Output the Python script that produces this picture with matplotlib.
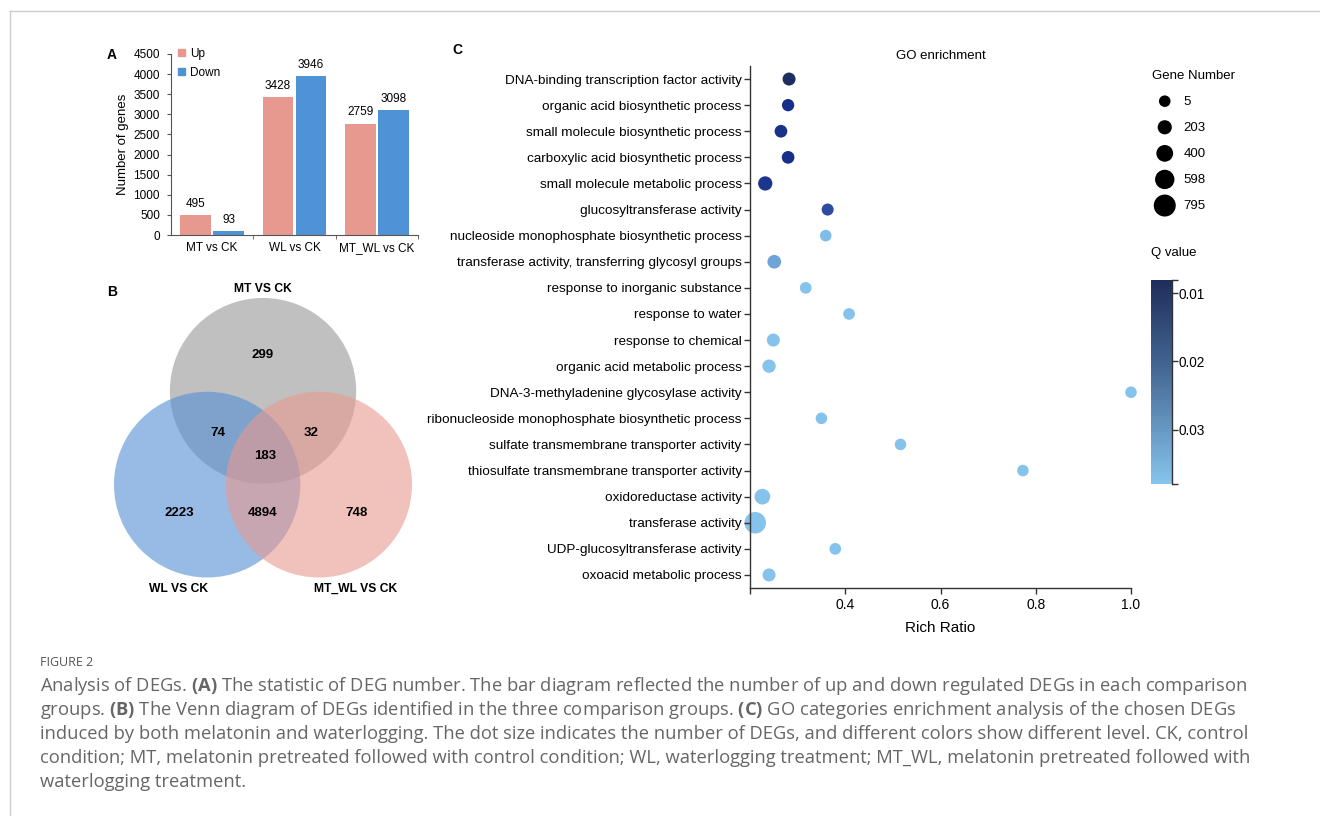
import matplotlib
matplotlib.use('Agg')
import matplotlib.pyplot as plt
import matplotlib.colors as mcolors
from matplotlib.patches import Circle, Patch
from matplotlib.lines import Line2D
import numpy as np

plt.rcParams['font.family'] = ['Liberation Sans', 'DejaVu Sans']
plt.rcParams['mathtext.fontset'] = 'custom'
plt.rcParams['mathtext.rm'] = 'Open Sans'
plt.rcParams['mathtext.bf'] = 'Open Sans:bold'

# --- panel A: DEG numbers
comparisons = ["MT vs CK", "WL vs CK", "MT_WL vs CK"]
up_counts = [495, 3428, 2759]
down_counts = [93, 3946, 3098]

# --- panel B: venn counts (region code: MT, WL, MT_WL membership)
venn_names = ["MT VS CK", "WL VS CK", "MT_WL VS CK"]
venn_regions = ["100", "010", "001", "110", "101", "011", "111"]
venn_counts = [299, 2223, 748, 74, 32, 4894, 183]

# --- panel C: GO enrichment
go_terms = [
    "DNA-binding transcription factor activity",
    "organic acid biosynthetic process",
    "small molecule biosynthetic process",
    "carboxylic acid biosynthetic process",
    "small molecule metabolic process",
    "glucosyltransferase activity",
    "nucleoside monophosphate biosynthetic process",
    "transferase activity, transferring glycosyl groups",
    "response to inorganic substance",
    "response to water",
    "response to chemical",
    "organic acid metabolic process",
    "DNA-3-methyladenine glycosylase activity",
    "ribonucleoside monophosphate biosynthetic process",
    "sulfate transmembrane transporter activity",
    "thiosulfate transmembrane transporter activity",
    "oxidoreductase activity",
    "transferase activity",
    "UDP-glucosyltransferase activity",
    "oxoacid metabolic process",
]
rich_ratio = [0.282, 0.280, 0.265, 0.280, 0.232, 0.363, 0.359, 0.251, 0.317, 0.408,
              0.249, 0.240, 1.000, 0.350, 0.516, 0.773, 0.226, 0.211, 0.379, 0.240]
gene_number = [115, 60, 90, 90, 210, 40, 5, 165, 15, 15,
               115, 140, 5, 5, 5, 5, 320, 760, 15, 115]
q_value = [0.0085, 0.0105, 0.0110, 0.0105, 0.0115, 0.0150, 0.0360, 0.0300, 0.0375, 0.0375,
           0.0375, 0.0375, 0.0375, 0.0375, 0.0375, 0.0375, 0.0375, 0.0375, 0.0375, 0.0375]
legend_genes = [5, 203, 400, 598, 795]
q_ticks = [0.01, 0.02, 0.03]
q_min, q_max = 0.0081, 0.0379

W, H = 1320, 816
fig = plt.figure(figsize=(W / 100, H / 100), dpi=100)


def box(x0, y0, x1, y1):
    # pixel box -> figure fraction rect
    return [x0 / W, 1 - y1 / H, (x1 - x0) / W, (y1 - y0) / H]


# page border
fig.add_artist(Line2D([10 / W, 10 / W], [0, 1 - 11 / H], color='#cccccc', lw=1))
fig.add_artist(Line2D([10 / W, 1], [1 - 11 / H, 1 - 11 / H], color='#cccccc', lw=1))

# ---------------- panel A
axA = fig.add_axes(box(171, 54, 418, 235))
x = np.arange(len(comparisons))
up_col, down_col = '#E8998F', '#4F93D6'
b1 = axA.bar(x - 0.2, up_counts, width=0.37, color=up_col, label='Up')
b2 = axA.bar(x + 0.2, down_counts, width=0.37, color=down_col, label='Down')
axA.bar_label(b1, padding=4, fontsize=8.5)
axA.bar_label(b2, padding=4, fontsize=8.5)
axA.set_xlim(-0.5, 2.5)
axA.set_ylim(0, 4500)
axA.set_yticks(np.arange(0, 4501, 500))
axA.set_xticks(x)
axA.set_xticklabels(comparisons)
axA.set_xticks([0.5, 1.5, 2.5], minor=True)
axA.tick_params(axis='x', which='major', length=0, labelsize=8.5, pad=5)
axA.tick_params(axis='x', which='minor', length=3, color='#555555')
axA.tick_params(axis='y', length=3, labelsize=8.5, color='#555555', pad=5)
for s in ['top', 'right']:
    axA.spines[s].set_visible(False)
for s in ['left', 'bottom']:
    axA.spines[s].set_color('#555555')
    axA.spines[s].set_linewidth(0.8)
axA.set_ylabel("Number of genes", fontsize=9.5, labelpad=3)
axA.legend(handles=[Patch(color=up_col, label='Up'), Patch(color=down_col, label='Down')],
           loc='upper left', bbox_to_anchor=(0.03, 1.035), frameon=False, fontsize=8.5,
           handlelength=0.55, handleheight=0.55, handletextpad=0.4, labelspacing=0.6,
           borderpad=0, borderaxespad=0)
fig.text(107 / W, 1 - 55 / H, "A", fontsize=10, fontweight='bold', va='center')

# ---------------- panel B (venn)
axB = fig.add_axes(box(100, 270, 440, 610))
axB.set_xlim(-1.75, 1.90)
axB.set_ylim(-1.855, 1.806)
axB.axis('off')
centers = [(0.0, 0.505), (-0.6, -0.505), (0.6, -0.505)]
circle_cols = ['#969696', '#528FD5', '#E9988F']
for c, col in zip(centers, circle_cols):
    axB.add_patch(Circle(c, 1.0, color=col, alpha=0.6, lw=0))
region_pos = {"100": (0.0, 0.89), "010": (-0.9, -0.81), "001": (1.0, -0.81),
              "110": (-0.48, 0.05), "101": (0.52, 0.05), "011": (0.0, -0.81),
              "111": (0.02, -0.2)}
for reg, cnt in zip(venn_regions, venn_counts):
    px, py = region_pos[reg]
    axB.text(px, py, str(cnt), ha='center', va='center', fontsize=9.5, fontweight='bold')
name_pos = [(0.0, 1.6), (-0.91, -1.63), (0.99, -1.63)]
for nm, (px, py) in zip(venn_names, name_pos):
    axB.text(px, py, nm, ha='center', va='center', fontsize=8.7, fontweight='bold')
fig.text(107 / W, 1 - 292 / H, "B", fontsize=10, fontweight='bold', va='center')

# ---------------- panel C
axC = fig.add_axes(box(750, 66, 1131, 588))
dot_cmap = mcolors.LinearSegmentedColormap.from_list(
    'dots', [(0, '#1F2F5C'), (0.07, '#152C88'), (0.25, '#3050A2'), (0.75, '#70A6D9'), (1.0, '#86C4ED')])
bar_cmap = mcolors.LinearSegmentedColormap.from_list(
    'qbar', [(0, '#1F2D5C'), (0.45, '#466A96'), (1.0, '#87C5EE')])
norm = mcolors.Normalize(q_min, q_max)


def dot_size(n):
    d_px = 11.5 + 0.0132 * np.asarray(n, dtype=float)
    return (d_px * 0.72) ** 2


ypos = np.arange(len(go_terms))
axC.scatter(rich_ratio, ypos, s=dot_size(gene_number), c=q_value, cmap=dot_cmap, norm=norm,
            edgecolors='none', clip_on=False, zorder=1)
axC.set_ylim(len(go_terms) - 0.5, -0.5)
axC.set_xlim(0.2, 1.0)
axC.set_yticks(ypos)
axC.set_yticklabels(go_terms)
axC.set_xticks([0.2, 0.4, 0.6, 0.8, 1.0])
axC.set_xticklabels(['', '0.4', '0.6', '0.8', '1.0'])
axC.tick_params(axis='y', length=4, width=1, labelsize=9.7, pad=2, color='#333333')
axC.tick_params(axis='x', length=4, width=1, labelsize=10, pad=3, color='#333333')
for s in ['top', 'right']:
    axC.spines[s].set_visible(False)
for s in ['left', 'bottom']:
    axC.spines[s].set_color('#333333')
    axC.spines[s].set_linewidth(1.0)
axC.set_xlabel("Rich Ratio", fontsize=11, labelpad=7)
axC.set_title("GO enrichment", fontsize=9.5, pad=5)
fig.text(452 / W, 1 - 50 / H, "C", fontsize=10, fontweight='bold', va='center')

# size legend
handles = [axC.scatter([], [], s=dot_size(n), color='black', edgecolors='none') for n in legend_genes]
leg = axC.legend(handles, [str(n) for n in legend_genes], title="Gene Number",
                 loc='upper left', bbox_to_anchor=(1141 / W, 1 - 59 / H),
                 bbox_transform=fig.transFigure, frameon=False, fontsize=9.5,
                 title_fontsize=9.5, labelspacing=1.05, handletextpad=0.4, borderpad=0.3)
leg._legend_box.align = 'left'

# Q value colorbar
cax = fig.add_axes(box(1151, 280, 1172, 484))
grad = np.linspace(q_min, q_max, 256).reshape(-1, 1)
cax.imshow(grad, extent=[0, 1, q_max, q_min], aspect='auto', cmap=bar_cmap, norm=norm)
cax.set_ylim(q_max, q_min)
cax.set_xlim(0, 1)
cax.set_xticks([])
cax.yaxis.tick_right()
cax.set_yticks([q_min] + q_ticks + [q_max])
cax.set_yticklabels([''] + ['%.2f' % t for t in q_ticks] + [''])
cax.tick_params(axis='y', length=4, width=1, labelsize=9.8, pad=1, color='#333333')
for s in ['top', 'left', 'bottom']:
    cax.spines[s].set_visible(False)
cax.spines['right'].set_color('#333333')
cax.spines['right'].set_linewidth(1.0)
fig.text(1151 / W, 1 - 253 / H, "Q value", fontsize=9.5, va='center')

# ---------------- caption
cap_font = ['Open Sans', 'DejaVu Sans']
cap_color = '#666666'
fig.text(40 / W, 1 - 662 / H, "FIGURE 2", fontsize=9, color='#555555', va='center',
         family=cap_font)
caption_lines = [
    r"Analysis of DEGs. $\mathbf{(A)}$ The statistic of DEG number. The bar diagram reflected the number of up and down regulated DEGs in each comparison",
    r"groups. $\mathbf{(B)}$ The Venn diagram of DEGs identified in the three comparison groups. $\mathbf{(C)}$ GO categories enrichment analysis of the chosen DEGs",
    "induced by both melatonin and waterlogging. The dot size indicates the number of DEGs, and different colors show different level. CK, control",
    "condition; MT, melatonin pretreated followed with control condition; WL, waterlogging treatment; MT_WL, melatonin pretreated followed with",
    "waterlogging treatment.",
]
# fit first line to its width in the reference
probe = fig.text(0, 0, caption_lines[0], fontsize=12, family=cap_font)
fig.canvas.draw()
wpx = probe.get_window_extent().width
probe.remove()
cap_size = 12 * 1205 / wpx
for i, line in enumerate(caption_lines):
    fig.text(40 / W, 1 - (686 + 24 * i) / H, line, fontsize=cap_size, color=cap_color,
             va='center', family=cap_font)

fig.savefig("out.png", dpi=100)
